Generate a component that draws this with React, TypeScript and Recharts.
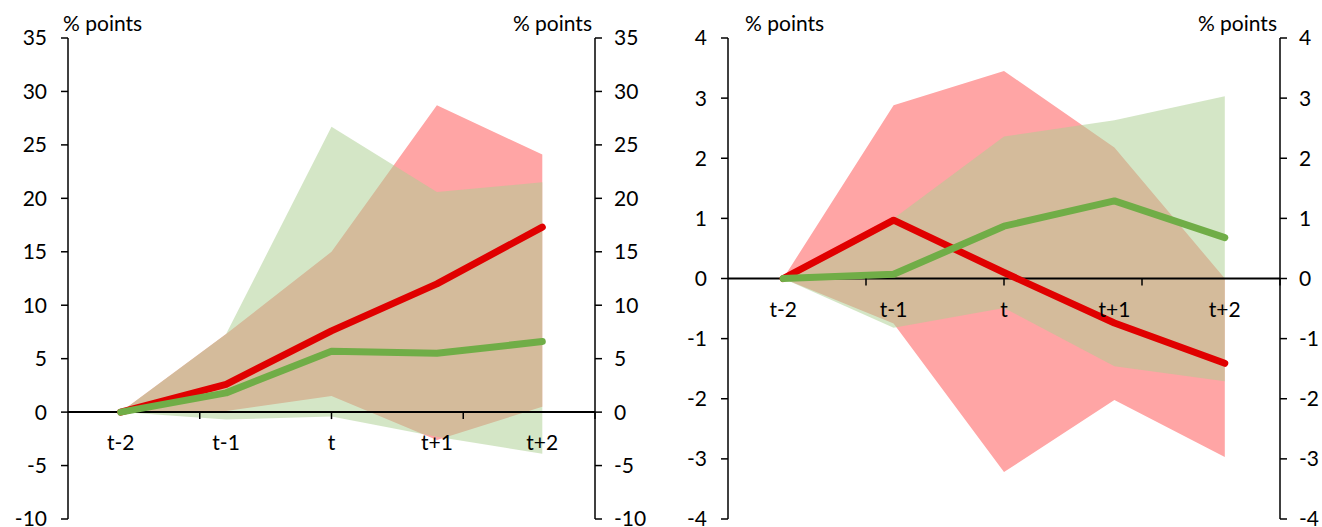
import React from 'react';
import { ComposedChart, Area, Line, XAxis, YAxis, ReferenceLine, ReferenceDot } from 'recharts';

const categories = ['t-2', 't-1', 't', 't+1', 't+2'];
const boundaries = [1, 2, 3, 4];

// left panel
const leftRed = [0, 2.6, 7.6, 12.0, 17.3];
const leftGreen = [0, 1.8, 5.7, 5.5, 6.6];
const leftRedHi = [0, 7.3, 15.0, 28.7, 24.1];
const leftRedLo = [0, 0.1, 1.5, -2.6, 0.5];
const leftGreenHi = [0, 7.3, 26.7, 20.6, 21.5];
const leftGreenLo = [0, -0.7, -0.4, -2.3, -3.9];
const leftTicks = [-10, -5, 0, 5, 10, 15, 20, 25, 30, 35];

// right panel
const rightRed = [0, 0.97, 0.1, -0.74, -1.41];
const rightGreen = [0, 0.07, 0.87, 1.29, 0.68];
const rightRedHi = [0, 2.88, 3.45, 2.18, 0.0];
const rightRedLo = [0, -0.75, -3.22, -2.02, -2.97];
const rightGreenHi = [0, 1.0, 2.36, 2.63, 3.03];
const rightGreenLo = [0, -0.82, -0.49, -1.46, -1.71];
const rightTicks = [-4, -3, -2, -1, 0, 1, 2, 3, 4];

const FONT = 'Lato, "Open Sans", sans-serif';
const RED = '#E00000';
const GREEN = '#70AD47';

interface PanelProps {
  red: number[];
  green: number[];
  redHi: number[];
  redLo: number[];
  greenHi: number[];
  greenLo: number[];
  ticks: number[];
  width: number;
  rightAxisWidth: number;
}

const Panel: React.FC<PanelProps> = ({ red, green, redHi, redLo, greenHi, greenLo, ticks, width, rightAxisWidth }) => {
  const data = categories.map((cat, i) => ({
    cat,
    redBand: [redLo[i], redHi[i]],
    greenBand: [greenLo[i], greenHi[i]],
    red: red[i],
    green: green[i],
  }));
  const domain = [ticks[0], ticks[ticks.length - 1]];
  const tickStyle = { fontSize: 21, fontFamily: FONT, fill: '#000' };

  return (
    <ComposedChart width={width} height={527} data={data} margin={{ top: 38, right: 0, bottom: 8, left: 0 }}>
      <XAxis xAxisId="cat" dataKey="cat" type="category" scale="band" hide />
      <XAxis xAxisId="grid" type="number" domain={[0, 5]} hide />
      <YAxis
        yAxisId="left"
        domain={domain}
        ticks={ticks}
        width={68}
        interval={0}
        tick={tickStyle}
        tickSize={7}
        tickMargin={14}
        axisLine={{ stroke: '#000', strokeWidth: 1.5 }}
        tickLine={{ stroke: '#000', strokeWidth: 1.5 }}
      />
      <YAxis
        yAxisId="right"
        orientation="right"
        domain={domain}
        ticks={ticks}
        width={rightAxisWidth}
        interval={0}
        tick={{ ...tickStyle, textAnchor: 'start' }}
        tickSize={7}
        tickMargin={12}
        axisLine={{ stroke: '#000', strokeWidth: 1.5 }}
        tickLine={{ stroke: '#000', strokeWidth: 1.5 }}
      />
      <Area
        xAxisId="cat"
        yAxisId="left"
        dataKey="redBand"
        type="linear"
        stroke="none"
        fill="#FFA5A5"
        fillOpacity={1}
        isAnimationActive={false}
      />
      <Area
        xAxisId="cat"
        yAxisId="right"
        dataKey="greenBand"
        type="linear"
        stroke="none"
        fill="rgb(172,207,145)"
        fillOpacity={0.52}
        isAnimationActive={false}
      />
      <ReferenceLine xAxisId="cat" yAxisId="left" y={0} stroke="#000" strokeWidth={2} />
      {boundaries.map((b) => (
        <ReferenceDot
          key={b}
          xAxisId="grid"
          yAxisId="left"
          x={b}
          y={0}
          shape={(p: any) => <line x1={p.cx} x2={p.cx} y1={p.cy} y2={p.cy + 7} stroke="#000" strokeWidth={1.5} />}
        />
      ))}
      {categories.map((c) => (
        <ReferenceDot
          key={c}
          xAxisId="cat"
          yAxisId="left"
          x={c}
          y={0}
          shape={(p: any) => (
            <text x={p.cx} y={p.cy + 38} textAnchor="middle" fontSize={21} fontFamily={FONT} fill="#000">
              {c}
            </text>
          )}
        />
      ))}
      <Line
        xAxisId="cat"
        yAxisId="left"
        dataKey="red"
        type="linear"
        stroke={RED}
        strokeWidth={7}
        strokeLinecap="round"
        strokeLinejoin="round"
        dot={false}
        isAnimationActive={false}
      />
      <Line
        xAxisId="cat"
        yAxisId="right"
        dataKey="green"
        type="linear"
        stroke={GREEN}
        strokeWidth={7}
        strokeLinecap="round"
        strokeLinejoin="round"
        dot={false}
        isAnimationActive={false}
      />
    </ComposedChart>
  );
};

const unitStyle: React.CSSProperties = {
  position: 'absolute',
  top: 10,
  fontFamily: FONT,
  fontSize: 21,
  color: '#000',
  whiteSpace: 'nowrap',
};

export default function App() {
  return (
    <div style={{ position: 'absolute', left: 0, top: 0, width: 1322, height: 527, background: '#fff', overflow: 'hidden' }}>
      <div style={{ position: 'absolute', left: 0, top: 0 }}>
        <Panel
          red={leftRed}
          green={leftGreen}
          redHi={leftRedHi}
          redLo={leftRedLo}
          greenHi={leftGreenHi}
          greenLo={leftGreenLo}
          ticks={leftTicks}
          width={660}
          rightAxisWidth={65}
        />
      </div>
      <div style={{ position: 'absolute', left: 660, top: 0 }}>
        <Panel
          red={rightRed}
          green={rightGreen}
          redHi={rightRedHi}
          redLo={rightRedLo}
          greenHi={rightGreenHi}
          greenLo={rightGreenLo}
          ticks={rightTicks}
          width={662}
          rightAxisWidth={42}
        />
      </div>
      <div style={{ ...unitStyle, left: 63 }}>% points</div>
      <div style={{ ...unitStyle, left: 510, width: 82, textAlign: 'right' }}>% points</div>
      <div style={{ ...unitStyle, left: 745 }}>% points</div>
      <div style={{ ...unitStyle, left: 1195, width: 82, textAlign: 'right' }}>% points</div>
    </div>
  );
}
